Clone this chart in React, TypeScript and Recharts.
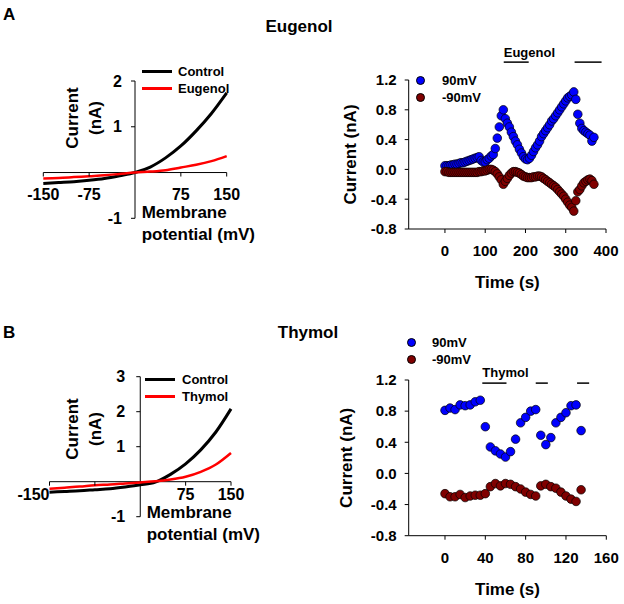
import React from 'react';
import {
  LineChart, Line, XAxis, YAxis, ReferenceLine, ReferenceDot,
  ScatterChart, Scatter, Legend,
} from 'recharts';

const FONT = '"Liberation Sans", Arial, Helvetica, sans-serif';

// ---------- I-V curves (panels A-left, B-left) ----------
const ivVoltage = [-150, -125, -100, -75, -50, -25, 0, 25, 50, 75, 100, 125, 150];
const ivControlA = [-0.24, -0.22, -0.2, -0.17, -0.13, -0.07, 0, 0.12, 0.32, 0.58, 0.91, 1.29, 1.74];
const ivEugenol = [-0.13, -0.12, -0.1, -0.08, -0.06, -0.03, 0, 0.02, 0.05, 0.11, 0.17, 0.25, 0.36];
const ivControlB = [-0.3, -0.28, -0.26, -0.23, -0.2, -0.15, -0.09, -0.01, 0.21, 0.51, 0.91, 1.42, 2.08];
const ivThymol = [-0.2, -0.17, -0.14, -0.1, -0.08, -0.05, -0.02, 0.01, 0.06, 0.14, 0.28, 0.49, 0.82];

const ivTicksX = [-150, -75, 75, 150];
const ivTickLabelsXA = ['-150', '-75', '75', '150'];
const ivTickLabelsXB = ['-150', '', '75', '150'];
const ivTicksYA = [-1, 1, 2];
const ivTicksYB = [-1, 1, 2, 3];

// ---------- Time courses (panels A-right, B-right) ----------
const timeA = [0, 5, 10, 15, 20, 25, 30, 35, 40, 45, 50, 55, 60, 65, 70, 75, 80, 85, 90, 95,
  100, 105, 110, 115, 120, 125, 130, 135, 140, 145, 150, 155, 160, 165, 170, 175, 180, 185, 190, 195,
  200, 205, 210, 215, 220, 225, 230, 235, 240, 245, 250, 255, 260, 265, 270, 275, 280, 285, 290, 295,
  300, 305, 310, 315, 320, 325, 330, 335, 340, 345, 350, 355, 360, 365, 370];
const pos90A = [0.05, 0.05, 0.05, 0.06, 0.06, 0.07, 0.07, 0.08, 0.09, 0.09,
  0.10, 0.11, 0.12, 0.13, 0.14, 0.15, 0.16, 0.17, 0.12, 0.10,
  0.10, 0.13, 0.15, 0.18, 0.20, 0.28, 0.42, 0.57, 0.72, 0.80,
  0.68, 0.62, 0.57, 0.50, 0.44, 0.38, 0.33, 0.27, 0.22, 0.17,
  0.14, 0.13, 0.15, 0.19, 0.24, 0.29, 0.33, 0.38, 0.44, 0.48,
  0.52, 0.56, 0.60, 0.65, 0.68, 0.72, 0.76, 0.80, 0.84, 0.88,
  0.92, 0.96, 0.98, 1.00, 1.04, 0.94, 0.74, 0.62, 0.55, 0.52,
  0.50, 0.48, 0.46, 0.38, 0.43];
const neg90A = [-0.03, -0.03, -0.04, -0.04, -0.04, -0.04, -0.04, -0.04, -0.04, -0.04,
  -0.04, -0.04, -0.04, -0.04, -0.04, -0.04, -0.04, -0.03, -0.03, -0.02,
  -0.02, -0.01, 0.0, 0.0, -0.01, -0.03, -0.06, -0.1, -0.14, -0.2,
  -0.16, -0.12, -0.08, -0.05, -0.03, -0.03, -0.04, -0.05, -0.07, -0.09,
  -0.1, -0.11, -0.11, -0.11, -0.1, -0.1, -0.09, -0.09, -0.1, -0.12,
  -0.14, -0.16, -0.18, -0.2, -0.22, -0.24, -0.27, -0.3, -0.33, -0.36,
  -0.4, -0.44, -0.48, -0.51, -0.56, -0.42, -0.3, -0.27, -0.22, -0.18,
  -0.16, -0.14, -0.13, -0.15, -0.2];
const eugenolPeriods = [[146, 208], [322, 389]];

const timeB = [0, 5, 10, 15, 20, 25, 30, 35, 40, 45, 50, 55, 60, 65, 70, 75, 80, 85, 90, 95,
  100, 105, 110, 115, 120, 125, 130, 135];
const pos90B = [0.81, 0.84, 0.82, 0.88, 0.87, 0.88, 0.92, 0.94, 0.6, 0.34,
  0.29, 0.25, 0.21, 0.28, 0.44, 0.65, 0.72, 0.8, 0.82, 0.49,
  0.37, 0.46, 0.65, 0.72, 0.78, 0.87, 0.88, 0.55];
const neg90B = [-0.26, -0.3, -0.3, -0.27, -0.31, -0.29, -0.28, -0.28, -0.26, -0.17,
  -0.13, -0.16, -0.13, -0.14, -0.17, -0.2, -0.24, -0.27, -0.29, -0.16,
  -0.14, -0.17, -0.19, -0.24, -0.29, -0.33, -0.36, -0.21];
const thymolPeriods = [[37, 61], [90, 102], [131, 143]];

const timeTicksA = [0, 100, 200, 300, 400];
const timeTicksB = [0, 40, 80, 120, 160];
const currentTicks = [-0.8, -0.4, 0, 0.4, 0.8, 1.2];

// ---------- derived tables ----------
const ivA = ivVoltage.map((v, i) => ({ v, control: ivControlA[i], drug: ivEugenol[i] }));
const ivB = ivVoltage.map((v, i) => ({ v, control: ivControlB[i], drug: ivThymol[i] }));
const toPts = (t: number[], y: number[]) => t.map((tt, i) => ({ t: tt, y: y[i] }));
const ptsPosA = toPts(timeA, pos90A);
const ptsNegA = toPts(timeA, neg90A);
const ptsPosB = toPts(timeB, pos90B);
const ptsNegB = toPts(timeB, neg90B);

const BLUE = '#0000ff';
const DARKRED = '#800000';

const boldText = { fontFamily: FONT, fontWeight: 'bold' as const, fill: '#000' };

function LineLegend({ drug, textLeft }: { drug: string; textLeft: number }) {
  const rows = [{ c: '#000', t: 'Control' }, { c: '#ff0000', t: drug }];
  return (
    <div style={{ position: 'relative', width: 110, height: 34, fontFamily: FONT, fontWeight: 'bold', fontSize: 13 }}>
      {rows.map((r, i) => (
        <React.Fragment key={r.t}>
          <span style={{ position: 'absolute', left: 0, top: i * 17 + 7.5, width: 30, height: 2.5, background: r.c }} />
          <span style={{ position: 'absolute', left: textLeft, top: i * 17, lineHeight: '17px', whiteSpace: 'nowrap' }}>{r.t}</span>
        </React.Fragment>
      ))}
    </div>
  );
}

function DotLegend({ textLeft }: { textLeft: number }) {
  const rows = [{ c: BLUE, t: '90mV' }, { c: DARKRED, t: '-90mV' }];
  return (
    <div style={{ position: 'relative', width: 80, height: 34, fontFamily: FONT, fontWeight: 'bold', fontSize: 13 }}>
      {rows.map((r, i) => (
        <React.Fragment key={r.t}>
          <span style={{ position: 'absolute', left: 0, top: i * 17 + 4, width: 9, height: 9, boxSizing: 'border-box', borderRadius: '50%', background: r.c, border: '0.7px solid #000' }} />
          <span style={{ position: 'absolute', left: textLeft, top: i * 17, lineHeight: '17px', whiteSpace: 'nowrap' }}>{r.t}</span>
        </React.Fragment>
      ))}
    </div>
  );
}

type IVProps = {
  left: number; top: number; width: number; height: number;
  margin: { top: number; left: number; right: number; bottom: number };
  data: any[]; drug: string; yDomain: [number, number]; yTicks: number[];
  xLabels: string[]; xLabelDy: number; xAnchors: string[]; yLabelDx: number;
  legendLeft: number; legendTop: number; legendTextLeft: number;
};

function IVPanel(p: IVProps) {
  return (
    <div style={{ position: 'absolute', left: p.left, top: p.top }}>
      <LineChart width={p.width} height={p.height} data={p.data} margin={p.margin} style={{ fontFamily: FONT }}>
        <XAxis type="number" dataKey="v" domain={[-150, 150]} hide />
        <YAxis type="number" domain={p.yDomain} hide />
        <ReferenceLine y={0} stroke="#000" strokeWidth={1} ifOverflow="visible" />
        <ReferenceLine x={0} stroke="#000" strokeWidth={1} ifOverflow="visible" />
        {ivTicksX.map((x, i) => (
          <ReferenceDot
            key={'xt' + x} x={x} y={0} ifOverflow="visible"
            shape={(s: any) => (
              <g>
                <line x1={s.cx} y1={s.cy} x2={s.cx} y2={s.cy + 4} stroke="#000" strokeWidth={1} />
                <text x={s.cx} y={s.cy + p.xLabelDy} textAnchor={p.xAnchors[i] as any} dominantBaseline="central" fontSize={16} style={boldText}>{p.xLabels[i]}</text>
              </g>
            )}
          />
        ))}
        {p.yTicks.map((y) => (
          <ReferenceDot
            key={'yt' + y} x={0} y={y} ifOverflow="visible"
            shape={(s: any) => (
              <g>
                <line x1={s.cx} y1={s.cy} x2={s.cx - 4} y2={s.cy} stroke="#000" strokeWidth={1} />
                <text x={s.cx - p.yLabelDx} y={s.cy} textAnchor="end" dominantBaseline="central" fontSize={16} style={boldText}>{String(y)}</text>
              </g>
            )}
          />
        ))}
        <Line dataKey="control" type="monotone" stroke="#000" strokeWidth={3} dot={false} isAnimationActive={false} />
        <Line dataKey="drug" type="monotone" stroke="#ff0000" strokeWidth={2.5} dot={false} isAnimationActive={false} />
        <Legend
          layout="vertical" align="center" verticalAlign="middle"
          wrapperStyle={{ left: p.legendLeft, top: p.legendTop, width: 110, height: 34 }}
          content={() => <LineLegend drug={p.drug} textLeft={p.legendTextLeft} />}
        />
      </LineChart>
    </div>
  );
}

type TProps = {
  left: number; top: number; width: number; height: number;
  marginTop: number; marginRight: number; yAxisWidth: number; xAxisHeight: number;
  pos: any[]; neg: any[]; xDomain: [number, number]; xTicks: number[]; xTickMargin: number;
  periods: number[][]; periodY: number; drug: string; drugLabelDy: number;
  yTitleDx: number; xTitleDy: number; legendLeft: number; legendTop: number; legendTextLeft: number;
};

const dotShape = (fill: string) => (s: any) => (
  <circle cx={s.cx} cy={s.cy} r={4.3} fill={fill} stroke="#000" strokeWidth={0.7} />
);

function TimePanel(p: TProps) {
  const yTitle = (lp: any) => {
    const vb = lp.viewBox || {};
    const cx = vb.x + p.yTitleDx;
    const cy = vb.y + vb.height / 2;
    return (
      <text x={cx} y={cy} transform={`rotate(-90 ${cx} ${cy})`} textAnchor="middle" dominantBaseline="central" fontSize={17} style={boldText}>
        Current (nA)
      </text>
    );
  };
  const xTitle = (lp: any) => {
    const vb = lp.viewBox || {};
    return (
      <text x={vb.x + vb.width / 2} y={vb.y + p.xTitleDy} textAnchor="middle" dominantBaseline="central" fontSize={17} style={boldText}>
        Time (s)
      </text>
    );
  };
  const tickStyle = { fill: '#000', fontSize: 15, fontWeight: 'bold', fontFamily: FONT };
  return (
    <div style={{ position: 'absolute', left: p.left, top: p.top }}>
      <ScatterChart width={p.width} height={p.height} margin={{ top: p.marginTop, right: p.marginRight, left: 0, bottom: 0 }} style={{ fontFamily: FONT }}>
        <XAxis
          type="number" dataKey="t" domain={p.xDomain} ticks={p.xTicks} allowDataOverflow
          height={p.xAxisHeight} tickSize={4} tickMargin={p.xTickMargin}
          axisLine={{ stroke: '#000' }} tickLine={{ stroke: '#000' }} tick={tickStyle}
          label={xTitle}
        />
        <YAxis
          type="number" dataKey="y" domain={[-0.8, 1.2]} ticks={currentTicks} allowDataOverflow
          width={p.yAxisWidth} tickSize={4} tickMargin={8}
          axisLine={{ stroke: '#000' }} tickLine={{ stroke: '#000' }} tick={tickStyle}
          tickFormatter={(v: number) => v.toFixed(1)}
          label={yTitle}
        />
        <Scatter name="90mV" data={p.pos} shape={dotShape(BLUE)} isAnimationActive={false} />
        <Scatter name="-90mV" data={p.neg} shape={dotShape(DARKRED)} isAnimationActive={false} />
        {p.periods.map(([a, b]) => (
          <ReferenceLine
            key={'per' + a}
            segment={[{ x: a, y: p.periodY }, { x: b, y: p.periodY }]}
            stroke="#000" strokeWidth={1.5} ifOverflow="visible"
          />
        ))}
        <ReferenceDot
          x={p.periods[0][0]} y={p.periodY} ifOverflow="visible"
          shape={(s: any) => (
            <text x={s.cx} y={s.cy - p.drugLabelDy} textAnchor="start" dominantBaseline="central" fontSize={13} style={boldText}>{p.drug}</text>
          )}
        />
        <Legend
          layout="vertical" align="center" verticalAlign="middle"
          wrapperStyle={{ left: p.legendLeft, top: p.legendTop, width: 80, height: 34 }}
          content={() => <DotLegend textLeft={p.legendTextLeft} />}
        />
      </ScatterChart>
    </div>
  );
}

const abs = (left: number, top: number, extra: React.CSSProperties = {}): React.CSSProperties => ({
  position: 'absolute', left, top, fontFamily: FONT, fontWeight: 'bold', color: '#000', whiteSpace: 'nowrap', ...extra,
});

export default function App() {
  return (
    <div style={{ position: 'absolute', left: 0, top: 0, width: 624, height: 604, background: '#fff', overflow: 'hidden' }}>
      {/* panel letters and titles */}
      <div style={abs(3, 5, { fontSize: 17, lineHeight: '20px' })}>A</div>
      <div style={abs(3, 323, { fontSize: 17, lineHeight: '20px' })}>B</div>
      <div style={abs(299, 17, { fontSize: 17, lineHeight: '20px', transform: 'translateX(-50%)' })}>Eugenol</div>
      <div style={abs(308, 323, { fontSize: 17, lineHeight: '20px', transform: 'translateX(-50%)' })}>Thymol</div>

      {/* A left */}
      <IVPanel
        left={0} top={40} width={300} height={240}
        margin={{ top: 41, left: 43.3, right: 73.3, bottom: 61.7 }}
        data={ivA} drug="Eugenol" yDomain={[-1, 2]} yTicks={ivTicksYA}
        xLabels={ivTickLabelsXA} xLabelDy={22} xAnchors={['middle', 'middle', 'middle', 'middle']} yLabelDx={13}
        legendLeft={142} legendTop={22.5} legendTextLeft={36}
      />
      <div style={abs(83.5, 118, { fontSize: 17, lineHeight: '23px', textAlign: 'center', transform: 'translate(-50%, -50%) rotate(-90deg)' })}>
        Current<br />(nA)
      </div>
      <div style={abs(141.7, 202.3, { fontSize: 17, lineHeight: '22px' })}>
        Membrane<br />potential (mV)
      </div>

      {/* B left */}
      <IVPanel
        left={0} top={340} width={300} height={240}
        margin={{ top: 36.7, left: 49.5, right: 69, bottom: 63.3 }}
        data={ivB} drug="Thymol" yDomain={[-1, 3]} yTicks={ivTicksYB}
        xLabels={ivTickLabelsXB} xLabelDy={13} xAnchors={['end', 'middle', 'middle', 'middle']} yLabelDx={15}
        legendLeft={145} legendTop={30.8} legendTextLeft={37}
      />
      <div style={abs(83.5, 429, { fontSize: 17, lineHeight: '23px', textAlign: 'center', transform: 'translate(-50%, -50%) rotate(-90deg)' })}>
        Current<br />(nA)
      </div>
      <div style={abs(146.7, 502.3, { fontSize: 17, lineHeight: '22px' })}>
        Membrane<br />potential (mV)
      </div>

      {/* A right */}
      <TimePanel
        left={312} top={30} width={312} height={272}
        marginTop={50} marginRight={18} yAxisWidth={96.7} xAxisHeight={73}
        pos={ptsPosA} neg={ptsNegA} xDomain={[-90, 400]} xTicks={timeTicksA} xTickMargin={12}
        periods={eugenolPeriods} periodY={1.44} drug="Eugenol" drugLabelDy={10}
        yTitleDx={38} xTitleDy={53} legendLeft={103.5} legendTop={41.5} legendTextLeft={26.5}
      />

      {/* B right */}
      <TimePanel
        left={312} top={330} width={312} height={274}
        marginTop={50} marginRight={17.7} yAxisWidth={96.7} xAxisHeight={68.3}
        pos={ptsPosB} neg={ptsNegB} xDomain={[-36, 160]} xTicks={timeTicksB} xTickMargin={13}
        periods={thymolPeriods} periodY={1.16} drug="Thymol" drugLabelDy={11}
        yTitleDx={35} xTitleDy={54} legendLeft={94.5} legendTop={3.5} legendTextLeft={25.5}
      />
    </div>
  );
}
